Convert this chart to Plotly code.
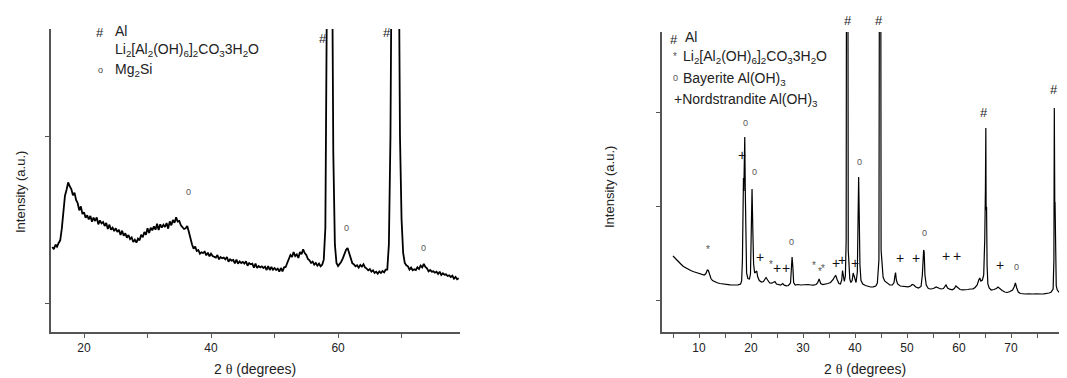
import plotly.graph_objects as go

# The page body adds an 8 px margin, so the figure is drawn 8 px smaller and
# every pixel position below is measured on the 1067x378 screenshot.
OFF = 8
FW, FH = 1067 - OFF, 378 - OFF
FONT = "Arial, Liberation Sans, sans-serif"

# ---------------- data: left pattern (scan step 0.25 deg, 15..79) ----------------
left_two_theta = [15 + 0.25 * i for i in range(257)]
left_intensity = [
    336, 322, 350, 338,   # 15
    360, 376, 446, 538,   # 16
    644, 680, 724, 700,   # 17
    684, 646, 662, 618,   # 18
    600, 556, 580, 534,   # 19
    544, 512, 526, 502,   # 20
    522, 488, 512, 492,   # 21
    514, 472, 496, 478,   # 22
    486, 462, 480, 444,   # 23
    470, 440, 452, 432,   # 24
    448, 426, 440, 408,   # 25
    434, 404, 418, 392,   # 26
    408, 384, 394, 366,   # 27
    380, 362, 386, 376,   # 28
    410, 394, 426, 410,   # 29
    448, 420, 452, 436,   # 30
    460, 440, 476, 438,   # 31
    472, 452, 470, 456,   # 32
    480, 446, 490, 466,   # 33
    498, 482, 514, 488,   # 34
    492, 466, 452, 444,   # 35
    448, 462, 428, 384,   # 36
    352, 326, 338, 312,   # 37
    318, 296, 304, 300,   # 38
    308, 286, 302, 280,   # 39
    296, 282, 278, 272,   # 40
    288, 262, 276, 268,   # 41
    272, 262, 276, 248,   # 42
    262, 254, 258, 238,   # 43
    260, 236, 250, 240,   # 44
    246, 236, 250, 224,   # 45
    240, 232, 236, 212,   # 46
    236, 210, 222, 214,   # 47
    220, 210, 218, 198,   # 48
    222, 198, 216, 200,   # 49
    210, 198, 206, 188,   # 50
    210, 190, 214, 216,   # 51
    240, 262, 288, 276,   # 52
    306, 282, 292, 270,   # 53
    306, 292, 322, 300,   # 54
    288, 264, 256, 240,   # 55
    248, 230, 240, 224,   # 56
    236, 220, 230, 260,   # 57
    450, 1900, 4000, 5000,  # 58
    2500, 900, 350, 240,  # 59
    222, 232, 248, 268,   # 60
    296, 318, 330, 302,   # 61
    262, 238, 232, 220,   # 62
    226, 212, 228, 218,   # 63
    232, 214, 206, 196,   # 64
    204, 188, 196, 180,   # 65
    188, 176, 190, 180,   # 66
    192, 184, 200, 200,   # 67
    350, 1000, 2500, 4500,  # 68
    5000, 4500, 2500, 1000,  # 69
    500, 300, 240, 226,   # 70
    220, 200, 212, 196,   # 71
    202, 198, 214, 204,   # 72
    224, 214, 234, 216,   # 73
    208, 190, 198, 188,   # 74
    190, 182, 188, 174,   # 75
    188, 168, 178, 170,   # 76
    172, 162, 166, 156,   # 77
    164, 146, 156, 142,   # 78
    148,                  # 79
]

# ---------------- data: right pattern ----------------
right_two_theta = [
    5.0, 5.5, 6.0, 6.5, 7.0, 7.5, 8.0, 8.5, 9.0, 9.5, 10.0, 10.5, 11.0, 11.3, 11.6, 11.8,
    12.0, 12.3, 12.6, 13.0, 13.5, 14.0, 14.5, 15.0, 15.5, 16.0, 16.5, 17.0, 17.5, 18.0,
    18.2, 18.35, 18.45, 18.55, 18.62, 18.7, 18.8, 18.9, 19.0, 19.15, 19.4, 19.7, 19.9,
    20.05, 20.2, 20.35, 20.5, 20.7, 20.9, 21.1, 21.3, 21.6, 22.0, 22.4, 22.7, 22.9, 23.2,
    23.6, 24.0, 24.3, 24.6, 24.9, 25.3, 25.7, 26.1, 26.4, 26.8, 27.2, 27.6, 27.8, 27.9,
    28.05, 28.2, 28.5, 29.0, 29.5, 30.0, 30.5, 31.0, 31.5, 32.0, 32.5, 32.8, 33.1, 33.4,
    33.8, 34.3, 34.8, 35.3, 35.8, 36.1, 36.3, 36.6, 36.9, 37.2, 37.45, 37.6, 37.75, 37.95,
    38.15, 38.3, 38.42, 38.58, 38.7, 38.85, 39.0, 39.2, 39.45, 39.65, 39.8, 40.0, 40.2,
    40.45, 40.6, 40.7, 40.8, 40.95, 41.15, 41.5, 42.0, 42.5, 43.0, 43.5, 44.0, 44.3, 44.6,
    44.78, 44.9, 45.02, 45.2, 45.4, 45.7, 46.2, 46.7, 47.2, 47.5, 47.7, 47.8, 47.95, 48.2,
    48.7, 49.2, 49.7, 50.2, 50.7, 51.0, 51.3, 51.7, 52.2, 52.7, 52.95, 53.1, 53.2, 53.3,
    53.45, 53.7, 54.1, 54.6, 55.1, 55.6, 56.0, 56.5, 57.0, 57.3, 57.5, 57.8, 58.2, 58.7,
    59.1, 59.4, 59.7, 60.2, 60.7, 61.2, 61.7, 62.2, 62.7, 63.1, 63.5, 63.8, 64.0, 64.2,
    64.5, 64.75, 64.95, 65.08, 65.16, 65.21, 65.25, 65.3, 65.4, 65.55, 65.8, 66.2, 66.7,
    67.2, 67.5, 67.8, 68.3, 68.8, 69.3, 69.8, 70.3, 70.6, 70.85, 71.1, 71.4, 71.8, 72.3,
    72.8, 73.3, 73.8, 74.3, 74.8, 75.3, 75.8, 76.3, 76.8, 77.3, 77.7, 78.1, 78.25, 78.33,
    78.38, 78.42, 78.47, 78.55, 78.7, 78.9, 79.2, 79.6, 80.0, 80.5,
]
right_intensity = [
    440, 410, 385, 360, 335, 318, 302, 292, 282, 272, 262, 255, 250, 262, 300, 295,
    250, 215, 195, 182, 172, 165, 160, 158, 155, 152, 150, 150, 152, 160,
    190, 400, 1070, 1220, 1090, 1300, 1630, 1100, 500, 270, 215, 210, 260,
    650, 1110, 700, 360, 270, 280, 290, 230, 195, 180, 185, 210, 225, 200,
    170, 168, 175, 185, 160, 150, 148, 165, 148, 142, 145, 170, 330, 430,
    330, 175, 150, 155, 150, 152, 148, 155, 150, 148, 155, 170, 210, 165,
    155, 158, 165, 175, 205, 235, 245, 200, 165, 160, 200, 295, 220, 185,
    240, 600, 6000, 6000, 500, 260, 210, 175, 195, 270, 240, 190, 175,
    280, 800, 1230, 900, 350, 195, 160, 145, 135, 130, 132, 140, 170, 400,
    6000, 6000, 500, 300, 230, 190, 165, 150, 150, 175, 250, 275, 200, 160,
    140, 135, 130, 132, 140, 155, 150, 130, 120, 135, 250, 420, 500, 480,
    250, 150, 115, 110, 115, 130, 120, 110, 115, 140, 150, 120, 108, 102,
    115, 140, 125, 105, 102, 100, 105, 110, 112, 125, 150, 200, 220, 190,
    200, 250, 600, 1100, 1720, 950, 900, 930, 350, 160, 120, 100, 105,
    115, 130, 115, 95, 80, 75, 85, 100, 130, 170, 120, 80, 65, 60,
    60, 62, 58, 60, 62, 58, 60, 62, 65, 70, 78, 110, 400, 1920,
    1000, 950, 980, 300, 140, 100, 80, 72, 70, 72,
]

# peak markers: (symbol, 2theta, intensity)
left_marks = [("0", 36.4, 666), ("#", 57.6, 1584), ("#", 67.7, 1620),
              ("0", 61.4, 450), ("0", 73.5, 330)]
right_marks = [
    ("0", 19.0, 1770), ("+", 18.3, 1450), ("0", 20.6, 1280), ("*", 11.7, 510),
    ("+", 21.7, 430), ("0", 27.7, 580), ("*", 23.8, 360), ("+", 25.0, 320),
    ("+", 26.7, 320), ("*", 32.1, 350), ("*", 33.3, 290), ("*", 33.9, 320),
    ("+", 36.3, 370), ("+", 37.5, 400), ("+", 40.0, 370),
    ("0", 40.8, 1380), ("+", 48.7, 420), ("+", 51.7, 420),
    ("0", 53.3, 670), ("+", 57.5, 440), ("+", 59.6, 440), ("#", 64.8, 1880),
    ("+", 67.9, 350), ("0", 71.0, 330), ("#", 78.3, 2110),
]
# Al marks sitting above the clipped 38.5 and 44.8 peaks (outside the y range)
right_top_marks = [("#", 38.7), ("#", 44.6)]

LI_PHASE = "Li<sub>2</sub>[Al<sub>2</sub>(OH)<sub>6</sub>]<sub>2</sub>CO<sub>3</sub>3H<sub>2</sub>O"


def fx(px):
    return (px - OFF) / FW


def fy(py):
    return 1 - (py - OFF) / FH


fig = go.Figure()
fig.add_trace(go.Scatter(x=left_two_theta, y=left_intensity, mode="lines",
                         line=dict(color="black", width=1.8), xaxis="x", yaxis="y",
                         showlegend=False, hoverinfo="skip"))
fig.add_trace(go.Scatter(x=right_two_theta, y=right_intensity, mode="lines",
                         line=dict(color="black", width=1.2), xaxis="x2", yaxis="y2",
                         showlegend=False, hoverinfo="skip"))

axis_common = dict(showline=True, linecolor="#555", linewidth=1.5, ticks="outside",
                   ticklen=4, tickcolor="#555", tickwidth=1, showgrid=False,
                   zeroline=False, tickfont=dict(family=FONT, size=12, color="#222"))
minor_common = dict(ticks="outside", ticklen=4, tickcolor="#555", tickwidth=1,
                    showgrid=False)

fig.update_layout(
    width=FW, height=FH, margin=dict(l=0, r=0, t=0, b=0),
    paper_bgcolor="white", plot_bgcolor="white", showlegend=False,
    font=dict(family=FONT, color="#222"),
    xaxis=dict(axis_common, domain=[fx(51), fx(460)], range=[14.8, 79.2], anchor="y",
               tickmode="array", tickvals=[20, 40, 60],
               minor=dict(minor_common, tickmode="array", tickvals=[30, 50, 70])),
    yaxis=dict(axis_common, domain=[fy(332), fy(29)], range=[-174, 1644],
               anchor="x", tickmode="array", tickvals=[0, 1002], showticklabels=False),
    xaxis2=dict(axis_common, domain=[fx(662), 1.0], range=[2.885, 80.77], anchor="y2",
                tickmode="array", tickvals=list(range(10, 81, 10)),
                minor=dict(minor_common, tickmode="array",
                           tickvals=list(range(5, 80, 10)))),
    yaxis2=dict(axis_common, domain=[fy(332), fy(32)], range=[-320, 2680],
                anchor="x2", tickmode="array", tickvals=[0, 940, 1880],
                showticklabels=False),
)

ann = []


def text_at(px, py, text, size=14, color="#222", xanchor="center", angle=0):
    ann.append(dict(x=fx(px), y=fy(py), xref="paper", yref="paper", text=text,
                    showarrow=False, xanchor=xanchor, yanchor="middle", textangle=angle,
                    font=dict(family=FONT, size=size, color=color)))


STYLE = {"#": (13, "#222"), "+": (14, "#111"), "0": (9, "#555"), "*": (10, "#555")}


def mark(sym, x, y, xr, yr):
    size, color = STYLE[sym]
    ann.append(dict(x=x, y=y, xref=xr, yref=yr, text=sym, showarrow=False,
                    font=dict(family=FONT, size=size, color=color)))


for s, x, y in left_marks:
    mark(s, x, y, "x", "y")
for s, x, y in right_marks:
    mark(s, x, y, "x2", "y2")
for s, x in right_top_marks:
    size, color = STYLE[s]
    ann.append(dict(x=x, y=fy(20), xref="x2", yref="paper", text=s, showarrow=False,
                    yanchor="middle", font=dict(family=FONT, size=size, color=color)))

# left legend
text_at(100, 32, "#", 13)
text_at(113, 31, "Al", 14, xanchor="left")
text_at(113, 50, LI_PHASE, 14, xanchor="left")
text_at(100, 70, "o", 9, "#444")
text_at(113, 70, "Mg<sub>2</sub>Si", 14, xanchor="left")

# right legend
text_at(674, 39, "#", 13)
text_at(683, 37, "Al", 14, xanchor="left")
text_at(675, 56, "*", 10, "#555")
text_at(681, 57, LI_PHASE, 14, xanchor="left")
text_at(675, 78, "0", 9, "#555")
text_at(681, 79, "Bayerite Al(OH)<sub>3</sub>", 14, xanchor="left")
text_at(672, 100, "+Nordstrandite Al(OH)<sub>3</sub>", 14, xanchor="left")

# axis titles
theta = "2 <span style='font-family:Times New Roman, Liberation Serif, serif'>θ</span> (degrees)"
text_at(20, 192, "Intensity (a.u.)", 13, angle=-90)
text_at(610, 187, "Intensity (a.u.)", 13, angle=-90)
text_at(255, 369, theta, 14)
text_at(865, 369, theta, 14)

fig.update_layout(annotations=ann)
fig.write_html("out.html")
